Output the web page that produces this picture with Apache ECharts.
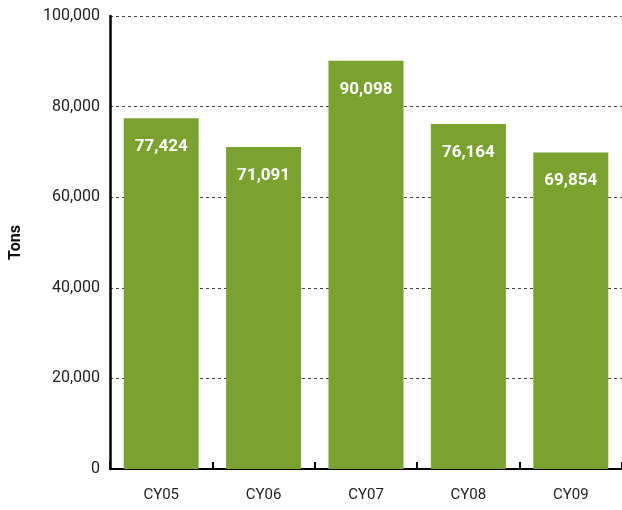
<!DOCTYPE html>
<html>
<head>
<meta charset="utf-8">
<script src="https://cdn.jsdelivr.net/npm/echarts@6/dist/echarts.min.js"></script>
<style>
  html, body { margin: 0; padding: 0; background: #fff; }
  #chart { width: 622px; height: 510px; }
</style>
</head>
<body>
<div id="chart"></div>
<script>
// chart data
var categories = ['CY05', 'CY06', 'CY07', 'CY08', 'CY09'];
var tons = [77424, 71091, 90098, 76164, 69854];

var font = 'Roboto, "Liberation Sans", sans-serif';

var chart = echarts.init(document.getElementById('chart'));
chart.setOption({
  animation: false,
  grid: {
    left: 108,
    top: 16,
    width: 521,
    height: 453,
    containLabel: false
  },
  xAxis: {
    type: 'category',
    data: categories,
    axisLine: { lineStyle: { color: '#000', width: 2 } },
    axisTick: { show: true, inside: true, length: 7, lineStyle: { color: '#000', width: 2 } },
    axisLabel: { color: '#222', fontFamily: font, fontSize: 15, margin: 19 }
  },
  yAxis: {
    type: 'value',
    min: 0,
    max: 100000,
    interval: 20000,
    name: 'Tons',
    nameLocation: 'middle',
    nameGap: 86,
    nameTextStyle: { color: '#111', fontFamily: font, fontSize: 16, fontWeight: 'bold' },
    axisLine: { show: true, lineStyle: { color: '#000', width: 2.5 } },
    axisTick: { show: false },
    axisLabel: {
      color: '#222',
      fontFamily: font,
      fontSize: 16,
      margin: 10,
      formatter: function (v) { return v.toLocaleString('en-US'); }
    },
    splitLine: { show: true, lineStyle: { color: '#444', type: [3, 3], width: 1 } }
  },
  series: [{
    type: 'bar',
    data: tons,
    barWidth: 75,
    itemStyle: { color: '#79a22f' },
    label: {
      show: true,
      position: 'insideTop',
      distance: 20,
      color: '#fff',
      fontFamily: font,
      fontSize: 17,
      fontWeight: 'bold',
      formatter: function (p) { return p.value.toLocaleString('en-US'); }
    }
  }]
});
</script>
</body>
</html>
